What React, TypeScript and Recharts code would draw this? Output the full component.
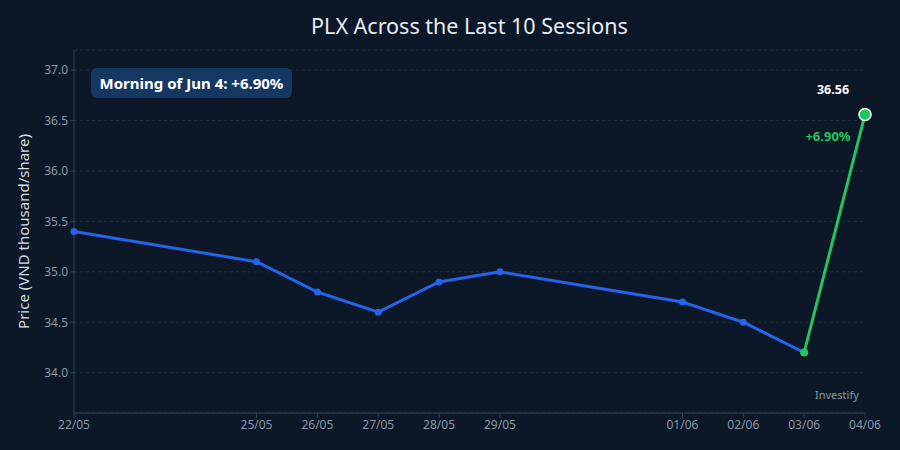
import { CartesianGrid, Label, Line, LineChart, XAxis, YAxis } from "recharts";

const sessionDates = [
  "2025-05-22",
  "2025-05-25",
  "2025-05-26",
  "2025-05-27",
  "2025-05-28",
  "2025-05-29",
  "2025-06-01",
  "2025-06-02",
  "2025-06-03",
  "2025-06-04",
];
const closePrices = [35.4, 35.1, 34.8, 34.6, 34.9, 35.0, 34.7, 34.5, 34.2, 36.56];
const yTicks = [34.0, 34.5, 35.0, 35.5, 36.0, 36.5, 37.0];
const jumpLabel = "+6.90%";
const noteText = "Morning of Jun 4: +6.90%";

const toTime = (d: string) => Date.parse(d + "T00:00:00Z");
const lastIdx = closePrices.length - 1;

const chartData = sessionDates.map((d, i) => ({
  t: toTime(d),
  price: i < lastIdx ? closePrices[i] : null,
  jump: i >= lastIdx - 1 ? closePrices[i] : null,
}));

const fmtDay = (t: number) => {
  const d = new Date(t);
  const dd = String(d.getUTCDate()).padStart(2, "0");
  const mm = String(d.getUTCMonth() + 1).padStart(2, "0");
  return `${dd}/${mm}`;
};

const FONT = "'Noto Sans', 'Open Sans', sans-serif";

function JumpDot(props: any) {
  const { cx, cy, index, value } = props;
  if (cx == null || cy == null || value == null) return null;
  if (index === lastIdx) {
    return (
      <g>
        <circle cx={cx} cy={cy} r={6} fill="#22c55e" stroke="#ffffff" strokeWidth={1.5} />
        <text x={cx - 32} y={cy - 21} textAnchor="middle" fill="#ffffff" fontSize={12.5} fontWeight={700} fontFamily={FONT}>
          {value.toFixed(2)}
        </text>
        <text x={cx - 37} y={cy + 26} textAnchor="middle" fill="#22c55e" fontSize={13} fontWeight={700} fontFamily={FONT}>
          {jumpLabel}
        </text>
      </g>
    );
  }
  return <circle cx={cx} cy={cy} r={4} fill="#22c55e" />;
}

export default function App() {
  return (
    <div
      style={{
        position: "absolute",
        left: 0,
        top: 0,
        width: 900,
        height: 450,
        background: "#0c1727",
        fontFamily: FONT,
      }}
    >
      <div
        style={{
          position: "absolute",
          left: 0,
          width: 939,
          top: 11,
          textAlign: "center",
          color: "#e8edf3",
          fontSize: 21.5,
        }}
      >
        PLX Across the Last 10 Sessions
      </div>
      <div
        style={{
          position: "absolute",
          left: 91,
          top: 68,
          width: 201,
          height: 30,
          borderRadius: 6,
          background: "#153863",
          color: "#ffffff",
          fontSize: 15,
          fontWeight: 700,
          lineHeight: "30px",
          textAlign: "center",
          zIndex: 2,
        }}
      >
        {noteText}
      </div>
      <div
        style={{
          position: "absolute",
          left: 815,
          top: 387,
          color: "#8a97a8",
          fontSize: 11,
        }}
      >
        Investify
      </div>
      <LineChart
        width={900}
        height={450}
        data={chartData}
        margin={{ top: 50, right: 35, bottom: 17, left: 0 }}
      >
        <CartesianGrid vertical={false} stroke="#223044" strokeDasharray="3 3" />
        <XAxis
          dataKey="t"
          type="number"
          scale="time"
          domain={["dataMin", "dataMax"]}
          ticks={chartData.map((d) => d.t)}
          tickFormatter={fmtDay}
          stroke="#334356"
          tick={{ fill: "#8b98a9", fontSize: 12, fontFamily: FONT }}
          tickSize={5}
          height={20}
        />
        <YAxis
          type="number"
          domain={[33.6, 37.2]}
          ticks={yTicks}
          tickFormatter={(v: number) => v.toFixed(1)}
          stroke="#334356"
          tick={{ fill: "#8b98a9", fontSize: 12, fontFamily: FONT }}
          tickSize={4}
          width={74}
        >
          <Label
            value="Price (VND thousand/share)"
            angle={-90}
            position="insideLeft"
            offset={24}
            style={{ textAnchor: "middle", fill: "#d5dce4", fontSize: 15, fontFamily: FONT }}
          />
        </YAxis>
        <Line
          dataKey="price"
          stroke="#2563eb"
          strokeWidth={3}
          dot={{ r: 3.5, fill: "#2563eb", stroke: "#2563eb", strokeWidth: 0 }}
          activeDot={false}
          connectNulls={false}
          isAnimationActive={false}
        />
        <Line
          dataKey="jump"
          stroke="#22c55e"
          strokeWidth={3}
          dot={<JumpDot />}
          activeDot={false}
          connectNulls={false}
          isAnimationActive={false}
        />
      </LineChart>
    </div>
  );
}
